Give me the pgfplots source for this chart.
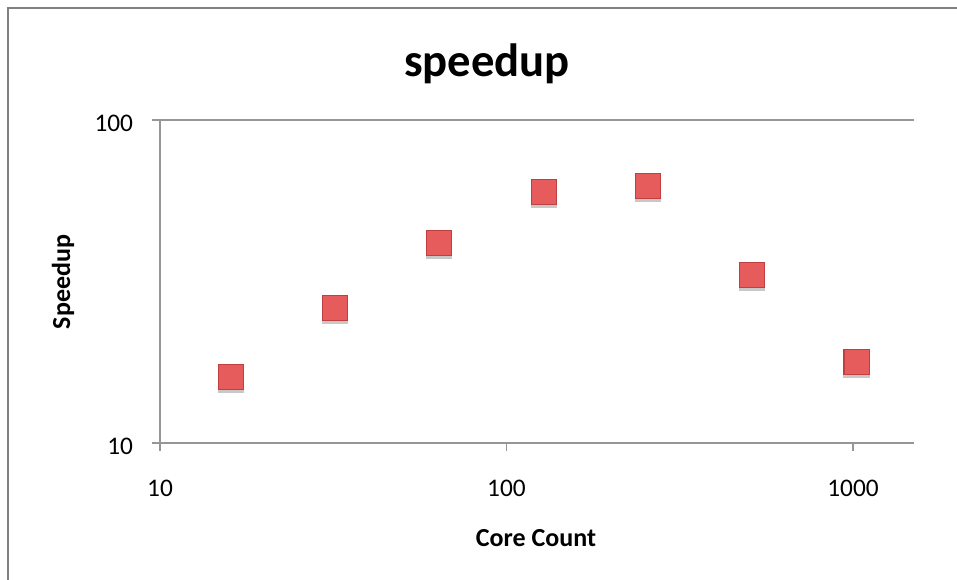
\documentclass[border=0pt]{standalone}
\usepackage{pgfplots}
\pgfplotsset{compat=1.18}
\usepackage{fontspec}
\setmainfont{Carlito}
\definecolor{axgray}{RGB}{150,150,150}
\definecolor{framegray}{RGB}{128,128,128}
\definecolor{mkfill}{RGB}{230,92,92}
\definecolor{mkdraw}{RGB}{192,64,64}
\definecolor{shadow}{RGB}{200,200,200}
\begin{document}
\begin{tikzpicture}
\useasboundingbox (0pt,0pt) rectangle (717.75pt,435pt);
\draw[line width=1.9pt, color=framegray] (6pt,0pt) -- (6pt,429pt) -- (717.75pt,429pt);
\begin{axis}[
  at={(120pt,102.75pt)}, anchor=south west,
  scale only axis, width=565.5pt, height=242.25pt,
  xmode=log, ymode=log,
  xmin=10, xmax=1500, ymin=10, ymax=100,
  axis x line*=bottom, axis y line*=left,
  axis line style={color=axgray, line width=1.1pt},
  xtick={10,100,1000}, xticklabels={10,100,1000},
  ytick={10,100}, yticklabels={10,100},
  xminorticks=false, yminorticks=false,
  tick align=outside, major tick length=6pt,
  tick style={color=axgray, line width=1.1pt},
  ymajorgrids, grid style={color=axgray, line width=1.1pt},
  ticklabel style={font=\fontsize{19}{22}\selectfont, text=black},
  xticklabel style={anchor=base, yshift=-34pt},
  yticklabel style={anchor=east, inner sep=0pt, xshift=-14pt, yshift=-2.6pt},
  clip=false,
]
\addplot[only marks, mark=square*, mark size=9.4pt,
  mark options={fill=shadow, draw=shadow, line width=0.8pt, yshift=-2pt}]
  coordinates {(16,16.0) (32,26.2) (64,41.6) (128,59.8) (256,62.5) (512,33.1) (1024,17.8)};
\addplot[only marks, mark=square*, mark size=9.4pt,
  mark options={fill=mkfill, draw=mkdraw, line width=0.8pt}]
  coordinates {(16,16.0) (32,26.2) (64,41.6) (128,59.8) (256,62.5) (512,33.1) (1024,17.8)};
\end{axis}
\node[font=\bfseries\fontsize{35}{40}\selectfont, anchor=base] at (365.25pt,377.25pt) {speedup};
\node[font=\bfseries\fontsize{19.5}{22}\selectfont, anchor=base] at (402pt,24.75pt) {Core Count};
\node[font=\bfseries\fontsize{19.5}{22}\selectfont, anchor=base, rotate=90] at (52.5pt,223.5pt) {Speedup};
\end{tikzpicture}
\end{document}
